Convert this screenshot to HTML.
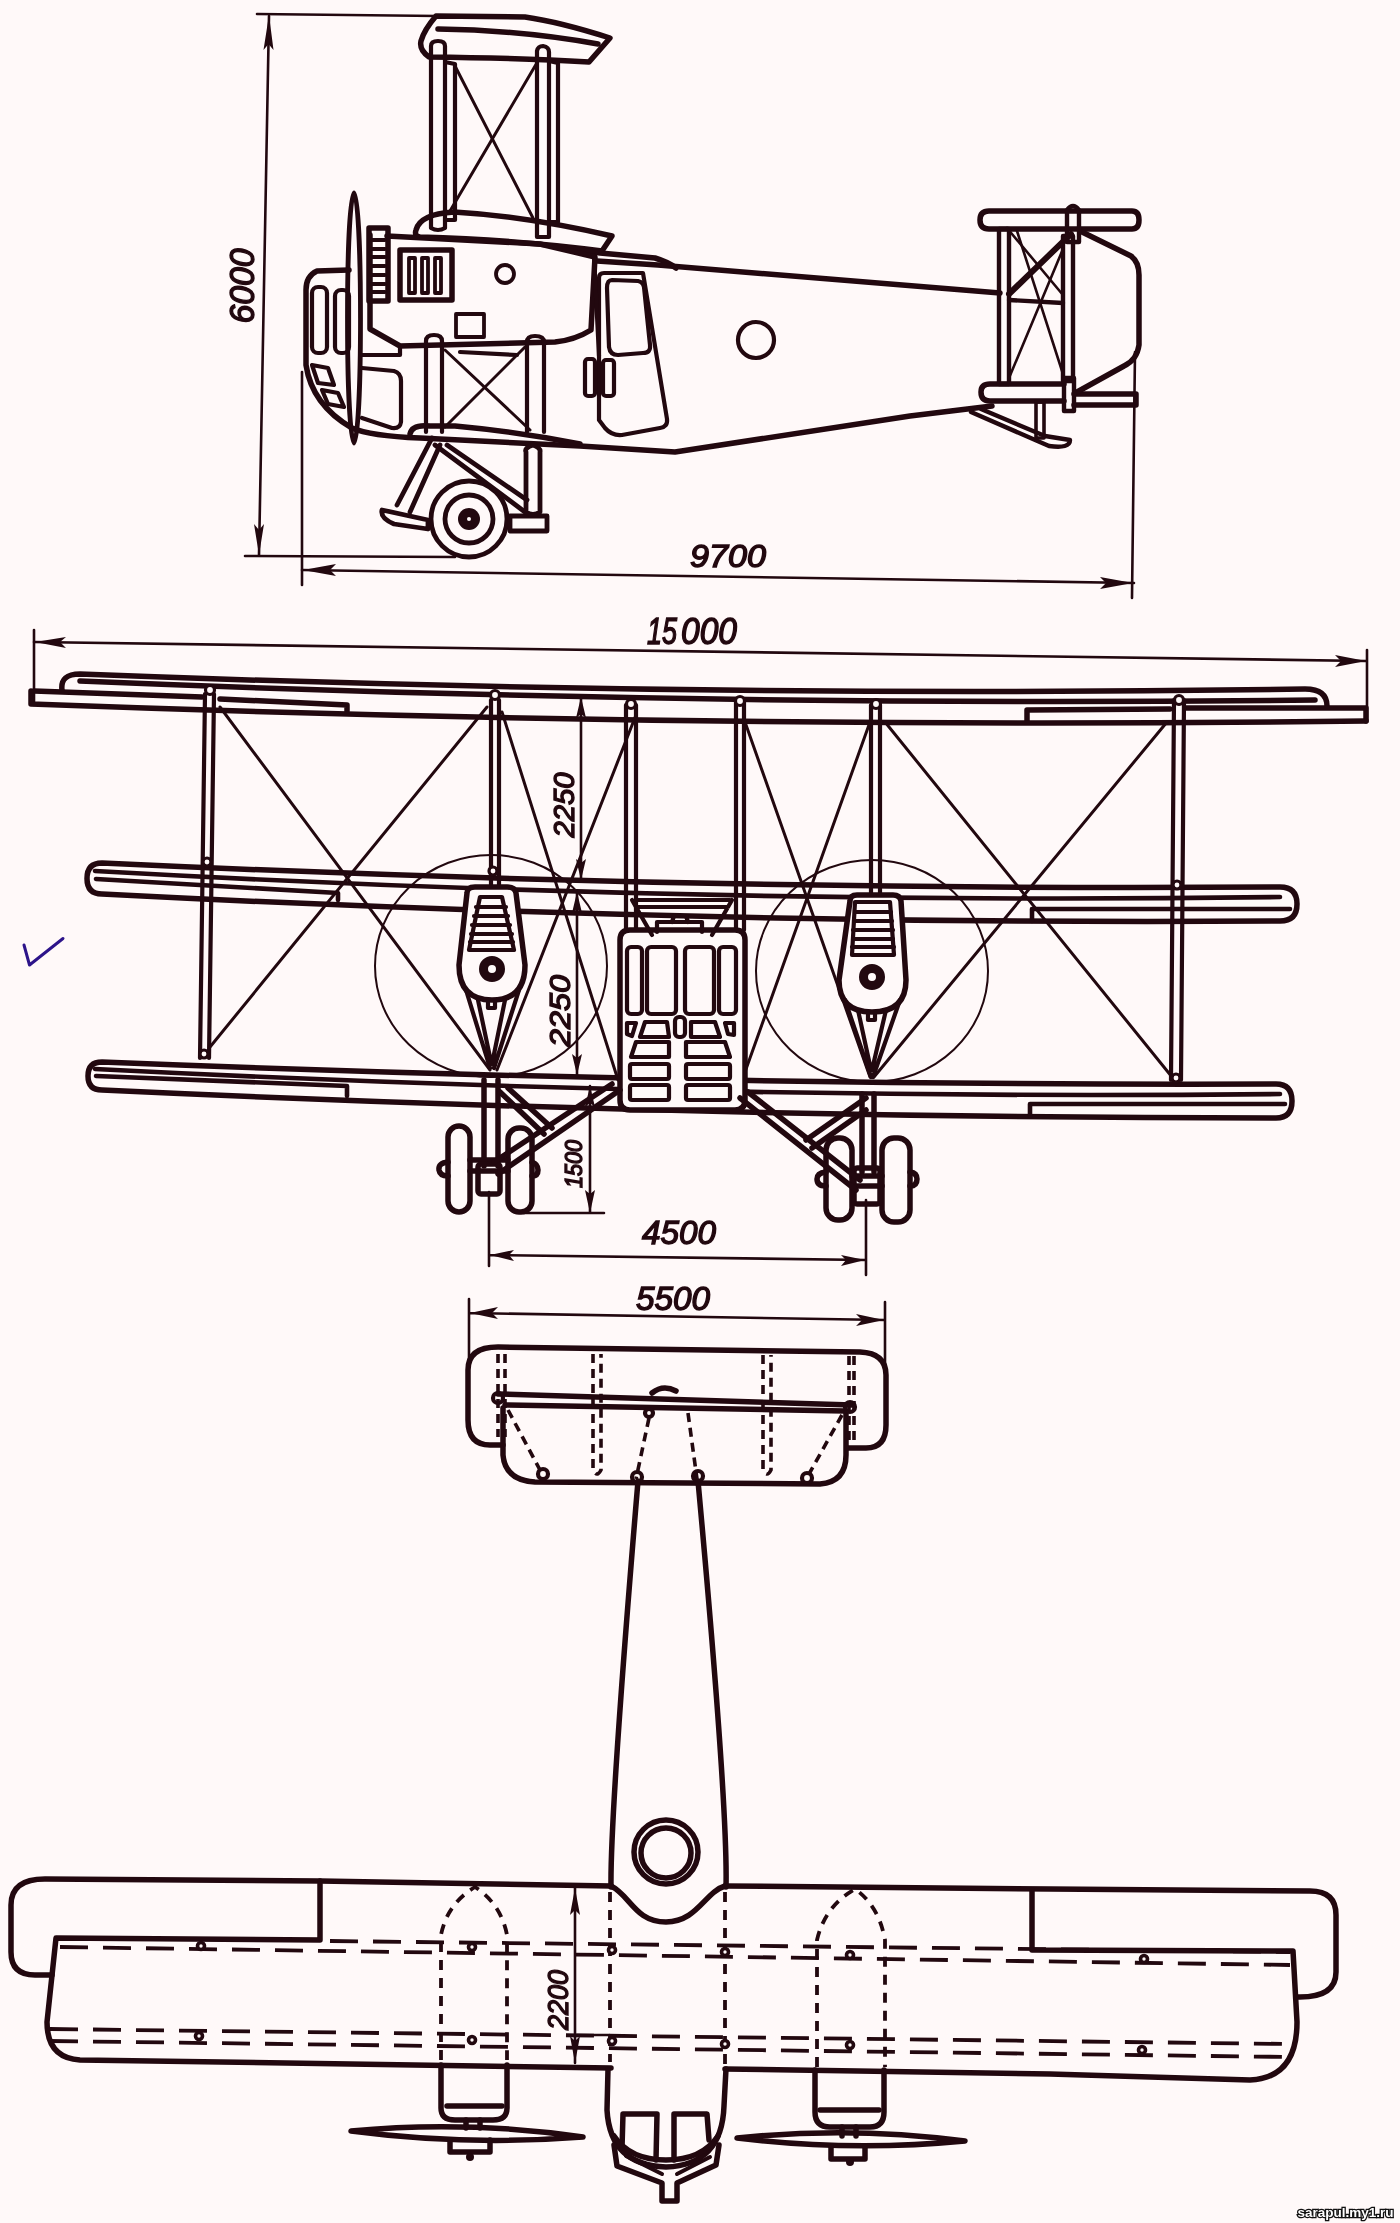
<!DOCTYPE html>
<html><head><meta charset="utf-8">
<style>
html,body{margin:0;padding:0;background:#fff9f9;}
body{width:1400px;height:2223px;overflow:hidden;position:relative;font-family:"Liberation Sans",sans-serif;}
svg{position:absolute;left:0;top:0;will-change:transform;}
</style></head><body>
<svg width="1400" height="2223" viewBox="0 0 1400 2223">
<g fill="none" stroke="#22080f" stroke-linecap="round" stroke-linejoin="round">
<!-- SIDE VIEW -->
<g id="side">
<g stroke-width="2.6">
<path d="M257,14 L438,16"/>
<path d="M269,16 L259,555"/>
<path d="M245,556 L455,557"/>
<path d="M302,372 L302,585"/>
<path d="M302,570 L1134,583"/>
<path d="M1135,352 L1132,598"/>
</g>
<g fill="#22080f" stroke="none">
<path d="M269,15 L263.5,50 L268.5,44 L273.5,50 Z"/>
<path d="M259,555 L254,524 L259,530 L264,524 Z"/>
<path d="M303,570 L336,564 L330,570 L336,576 Z"/>
<path d="M1133,583 L1100,577 L1106,583 L1100,589 Z"/>
</g>
<!-- top wing -->
<g stroke-width="5.5">
<path d="M436,16 L525,17 Q560,22 610,38 L589,62 Q520,58 429,57 Q419,50 421,41 Q424,30 436,16 Z"/>
<path d="M438,29 Q520,30 598,44"/>
</g>
<g stroke-width="4.2">
<path d="M431,228 L431,46 Q431,41 438,41 Q445,41 445,46 L445,228 Q438,232 431,228 Z"/>
<path d="M445,62 L455,64 L455,220 L445,220"/>
<path d="M537,237 L537,51 Q538,46 543,46 Q549,47 549,52 L549,237 Z"/>
<path d="M549,61 L558,63 L558,222 L549,222"/>
</g>
<g stroke-width="3">
<path d="M455,66 L533,218"/>
<path d="M538,61 L450,211"/>
</g>
<!-- middle wing + nacelle -->
<g stroke-width="5.5">
<path d="M416,230 Q420,214 454,212 Q525,216 612,236 L602,251 Q520,240 420,237 Q414,236 416,230 Z"/>
<path d="M560,247 L600,253 L655,258 Q668,262 676,268"/>
<path d="M387,236 L540,244 L595,257 L591,330 Q575,340 555,342 L400,346 L370,329 L370,235"/>
<path d="M369,228 L388,228 L388,301 L369,301 Z"/>
<path d="M400,250 L452,250 L452,300 L400,300 Z"/>
</g>
<g stroke-width="3.8">
<path d="M372,240 L385,240 M372,249 L385,249 M372,257 L385,257 M372,266 L385,266 M372,275 L385,275 M372,284 L385,284 M372,292 L385,292"/>
<path d="M409,258 L415,258 L415,293 L409,293 Z M422,258 L428,258 L428,293 L422,293 Z M435,258 L441,258 L441,293 L435,293 Z"/>
<circle cx="505" cy="274" r="9"/>
<path d="M456,314 L484,314 L484,337 L456,337 Z"/>
</g>
<!-- propeller -->
<ellipse cx="354" cy="318" rx="6.5" ry="125" stroke-width="4.8"/>
<!-- nose -->
<g stroke-width="5.5">
<path d="M349,270 L317,271 Q306,276 306,290 L306,365 Q312,405 352,428 Q370,436 420,438 L580,446 L675,452 L910,416 L992,406"/>
<path d="M597,261 L658,265 L1000,293"/>
</g>
<g stroke-width="4.2">
<rect x="312" y="287" width="15" height="66" rx="6"/>
<rect x="335" y="290" width="14" height="63" rx="6"/>
<path d="M312,365 L328,368 L334,385 L318,383 Z"/>
<path d="M322,390 L338,393 L344,407 L328,404 Z"/>
<path d="M362,368 L394,371 Q401,373 401,381 L401,422 Q400,429 392,428 L362,418"/>
<path d="M362,355 L400,355 L400,348"/>
</g>
<!-- door etc -->
<g stroke-width="4.2">
<path d="M604,273 L643,273 L667,419 Q668,427 660,428 L622,435 Q612,436 605,428 L599,420 L599,278 Q599,273 604,273 Z"/>
<path d="M612,280 L638,281 Q643,282 644,287 L650,345 Q651,353 643,353 L618,355 Q610,355 609,347 L607,288 Q607,280 612,280 Z"/>
<circle cx="756" cy="340" r="18"/>
<rect x="585" y="359" width="10" height="37" rx="3"/>
<rect x="603" y="360" width="11" height="36" rx="3"/>
<path d="M594,255 L599,356"/>
</g>
<!-- lower struts -->
<g stroke-width="4.2">
<path d="M426,432 L426,341 Q426,335 434,335 Q442,335 442,341 L442,432"/>
<path d="M527,432 L527,342 Q527,336 535,336 Q544,336 544,342 L544,432"/>
</g>
<g stroke-width="3">
<path d="M445,350 L530,430"/>
<path d="M525,347 L445,427"/>
</g>
<path d="M410,434 Q412,424 430,426 L455,426 Q520,432 580,444" stroke-width="5.5"/>
<path d="M460,352 L517,355" stroke-width="4.2"/>
<!-- landing gear -->
<g stroke-width="4.8">
<circle cx="469" cy="519" r="38"/>
<circle cx="469" cy="519" r="24"/>
<path d="M382,510 L428,520 L428,529 L394,524 Q380,518 382,510 Z"/>
<path d="M510,516 L547,516 L547,531 L510,531 Z"/>
<path d="M397,505 L432,438 M410,512 L440,445"/>
<path d="M435,445 L525,512 M447,445 L527,500"/>
<path d="M526,452 Q524,448 533,445 Q541,448 540,452 L540,512 Q533,517 526,512 Z"/>
</g>
<circle cx="469" cy="519" r="11" fill="#22080f" stroke="none"/>
<circle cx="469" cy="519" r="2" fill="#fff9f9" stroke="none"/>
<!-- tail -->
<g stroke-width="5.5">
<path d="M980,220 Q980,211 989,211 L1132,211 Q1139,211 1139,220 Q1139,229 1132,229 L989,229 Q980,229 980,220 Z"/>
<path d="M981,392 Q981,384 990,384 L1064,384 M1074,394 L1136,394 L1136,405 L1074,405 M1064,401 L990,401 Q981,401 981,392"/>
<path d="M1080,231 L1131,256 Q1139,262 1139,275 L1139,345 Q1137,360 1124,366 L1077,392"/>
</g>
<g stroke-width="4.4">
<path d="M999,229 L1009,229 L1009,384 L999,384 Z"/>
<path d="M1063,236 L1073,236 L1073,381 L1063,381 Z"/>
<path d="M1067,210 Q1073,202 1079,210 L1079,242 L1067,242 Z"/>
<path d="M1064,378 L1074,378 L1074,411 L1064,411 Z"/>
<path d="M1009,294 L1071,234" stroke-width="6"/>
<path d="M1009,300 L1063,303"/>
<path d="M971,412 L1049,446 Q1070,449 1070,440 L1045,436 L981,409"/>
<path d="M1036,402 L1044,402 L1044,438 L1036,438 Z" stroke-width="3.6"/>
</g>
<g stroke-width="2.6">
<path d="M1007,228 L1063,295"/>
<path d="M1009,378 L1063,249"/>
<path d="M1017,231 L1063,374"/>
</g>
</g>

<!-- FRONT VIEW -->
<g id="front">
<g stroke-width="2.6">
<path d="M34,642 L1366,661"/>
<path d="M34,630 L34,705"/>
<path d="M1367,650 L1367,721"/>
<path d="M581,697 L581,880"/>
<path d="M577,892 L577,1075"/>
<path d="M590,1086 L590,1213 M524,1213 L604,1213"/>
<path d="M489,1192 L489,1266 M866,1200 L866,1275 M489,1255 L866,1260"/>
</g>
<g fill="#22080f" stroke="none">
<path d="M35,642 L66,637 L60,642 L66,648 Z"/>
<path d="M1366,661 L1335,655 L1341,661 L1335,667 Z"/>
<path d="M581,697 L576,718 L581,714 L586,718 Z"/>
<path d="M581,880 L576,859 L581,863 L586,859 Z"/>
<path d="M577,892 L572,913 L577,909 L582,913 Z"/>
<path d="M577,1075 L572,1054 L577,1058 L582,1054 Z"/>
<path d="M590,1086 L585,1107 L590,1103 L595,1107 Z"/>
<path d="M590,1213 L585,1190 L590,1194 L595,1190 Z"/>
<path d="M490,1255 L514,1250 L509,1255 L514,1261 Z"/>
<path d="M865,1260 L841,1255 L846,1260 L841,1266 Z"/>
</g>
<!-- top wing -->
<g stroke-width="5.5">
<path d="M62,690 Q60,674 80,674 Q700,698 1305,689 Q1327,689 1327,706"/>
<path d="M80,681 Q700,707 1315,700"/>
<path d="M34,691 L202,697 M220,699 L347,705 L347,711"/>
<path d="M1027,721 L1027,710 L1170,709 M1186,708 L1366,708 L1366,721"/>
<path d="M31,691 L31,704 Q700,729 1366,721"/>
</g>
<!-- middle wing -->
<g stroke-width="5.5">
<path d="M102,863 Q700,891 1280,887 Q1297,887 1297,904 Q1297,921 1280,921 Q700,925 102,894 Q87,894 87,878.5 Q87,863 102,863 Z"/>
</g>
<g stroke-width="4.6">
<path d="M95,871 Q700,905 1280,897"/>
<path d="M96,879 L338,893 L338,900"/>
<path d="M1032,921 L1032,909 L1290,909"/>
</g>
<!-- lower wing -->
<g stroke-width="5.5">
<path d="M102,1062 Q700,1086 1276,1084 Q1292,1084 1292,1101 Q1292,1118 1276,1118 Q700,1118 102,1090 Q88,1090 88,1076 Q88,1062 102,1062 Z"/>
</g>
<g stroke-width="4.6">
<path d="M95,1069 Q700,1100 1280,1094"/>
<path d="M96,1076 L347,1086 L347,1096"/>
<path d="M1030,1116 L1030,1104 L1285,1104"/>
</g>
<!-- struts -->
<g stroke-width="4.2">
<path d="M205,694 L200,1058 M214,694 L209,1058"/>
<path d="M491,700 L491,886 M499,700 L499,886"/>
<path d="M626,705 L626,930 M636,705 L636,930"/>
<path d="M736,702 L736,930 M744,702 L744,930"/>
<path d="M871,705 L871,895 M880,705 L880,895"/>
<path d="M1174,700 L1171,1080 M1184,700 L1181,1080"/>
</g>
<!-- wires -->
<g stroke-width="3">
<path d="M220,707 L490,1070"/>
<path d="M487,707 L210,1047"/>
<path d="M502,712 L618,1080"/>
<path d="M636,715 L497,1070"/>
<path d="M745,722 L870,1077"/>
<path d="M870,722 L745,1072"/>
<path d="M885,722 L1172,1077"/>
<path d="M1167,722 L874,1077"/>
</g>
<!-- strut joints -->
<g stroke-width="3.2" fill="#fff9f9">
<circle cx="210" cy="690" r="4.5"/><circle cx="495" cy="695" r="4.5"/><circle cx="631" cy="704" r="4.5"/>
<circle cx="740" cy="701" r="4.5"/><circle cx="876" cy="704" r="4.5"/><circle cx="1179" cy="700" r="4.5"/>
<circle cx="207" cy="862" r="4"/><circle cx="493" cy="871" r="4"/><circle cx="1177" cy="885" r="4"/>
<circle cx="204" cy="1054" r="4"/><circle cx="1176" cy="1078" r="4"/>
</g>
<!-- propeller discs -->
<g stroke-width="2">
<ellipse cx="491" cy="966" rx="116" ry="111"/>
<ellipse cx="872" cy="971" rx="116" ry="111"/>
</g>
<!-- nacelles -->
<g stroke-width="5.5" fill="#fff9f9">
<path d="M467,893 Q467,887 475,887 L507,887 Q515,887 516,893 L525,965 Q525,1000 492,1000 Q459,1000 459,965 Z"/>
<path d="M850,901 Q850,895 857,895 L893,895 Q900,895 901,901 L906,980 Q906,1012 872,1012 Q839,1012 839,980 Z"/>
</g>
<g stroke-width="4.2">
<path d="M480,897 L502,897 L514,950 L469,950 Z"/>
<path d="M476,907 L506,907 M474,916 L508,916 M472,925 L510,925 M471,934 L512,934 M470,942 L513,942"/>
<path d="M855,902 L890,902 L894,955 L852,955 Z"/>
<path d="M855,912 L891,912 M854,921 L892,921 M853,930 L893,930 M853,939 L893,939 M852,947 L894,947"/>
<path d="M466,990 L490,1068 M478,1000 L491,1062 M505,1000 L492,1064 M519,990 L494,1068"/>
<path d="M845,1000 L871,1077 M858,1010 L871,1070 M886,1010 L872,1070 M900,1000 L873,1077"/>
<path d="M488,1001 L488,1008 L495,1008 L495,1001"/>
<path d="M868,1013 L868,1020 L875,1020 L875,1013"/>
</g>
<g stroke-width="9">
<circle cx="492" cy="969" r="8.5"/>
<circle cx="872" cy="977" r="8.5"/>
</g>
<!-- fuselage -->
<g stroke-width="5.5" fill="#fff9f9">
<path d="M630,930 L735,930 Q745,930 745,940 L745,1100 Q745,1110 735,1110 L630,1110 Q620,1110 620,1100 L620,940 Q620,930 630,930 Z"/>
</g>
<g stroke-width="4.2">
<path d="M632,900 L652,935 M732,900 L712,935 M636,900 L730,900 M638,907 L728,907"/>
<path d="M657,932 L657,922 L702,922 L702,932 M672,922 L674,916 L686,916 L688,922"/>
<rect x="627" y="947" width="15" height="67" rx="4"/>
<rect x="647" y="947" width="29" height="67" rx="4"/>
<rect x="685" y="947" width="29" height="67" rx="4"/>
<rect x="719" y="947" width="17" height="67" rx="4"/>
<path d="M627,1023 L636,1023 L632,1036 L627,1034 Z"/>
<path d="M645,1022 L667,1022 L669,1037 L640,1037 Z"/>
<rect x="675" y="1017" width="10" height="20" rx="4"/>
<path d="M691,1022 L715,1022 L720,1037 L691,1037 Z"/>
<path d="M725,1023 L734,1023 L734,1035 L728,1034 Z"/>
<path d="M636,1042 L669,1042 L669,1057 L631,1057 Z"/>
<path d="M686,1042 L725,1042 L730,1057 L686,1057 Z"/>
<rect x="630" y="1064" width="39" height="15" rx="2"/>
<rect x="686" y="1064" width="44" height="15" rx="2"/>
<rect x="630" y="1085" width="39" height="15" rx="2"/>
<rect x="686" y="1085" width="44" height="15" rx="2"/>
</g>
<!-- landing gear -->
<g stroke-width="5.5">
<path d="M484,1080 L484,1166 M498,1080 L498,1166"/>
<rect x="448" y="1126" width="22" height="86" rx="11"/>
<rect x="508" y="1128" width="24" height="84" rx="11"/>
<path d="M448,1162 Q438,1163 439,1170 Q440,1176 448,1176"/>
<path d="M532,1162 Q538,1164 538,1170 Q538,1176 532,1176"/>
<path d="M470,1160 L508,1160 M470,1171 L508,1171"/>
<rect x="478" y="1164" width="22" height="30" rx="3"/>
<path d="M498,1174 L620,1090 M494,1162 L612,1084"/>
<path d="M500,1092 L544,1134 M508,1088 L552,1128"/>
<path d="M862,1094 L862,1172 M874,1094 L874,1172"/>
<rect x="826" y="1138" width="26" height="82" rx="12"/>
<rect x="882" y="1138" width="28" height="84" rx="12"/>
<path d="M826,1172 Q817,1173 817,1179 Q817,1186 826,1186"/>
<path d="M910,1172 Q917,1173 917,1179 Q917,1186 910,1186"/>
<path d="M852,1176 L882,1176 M852,1186 L882,1186"/>
<rect x="854" y="1168" width="26" height="36" rx="3"/>
<path d="M740,1098 L856,1190 M748,1092 L860,1180"/>
<path d="M806,1140 L866,1098 M812,1148 L866,1110"/>
</g>
</g>

<!-- TOP VIEW -->
<g id="top">
<g stroke-width="2.6">
<path d="M469,1299 L469,1366 M885,1302 L885,1366 M469,1313 L885,1320"/>
<path d="M575,1887 L575,2063 M577,2035 L609,2035"/>
</g>
<g fill="#22080f" stroke="none">
<path d="M470,1313 L498,1307 L492,1313 L498,1319 Z"/>
<path d="M884,1320 L856,1314 L862,1320 L856,1326 Z"/>
<path d="M575,1888 L570,1915 L575,1910 L580,1915 Z"/>
<path d="M575,2063 L570,2036 L575,2041 L580,2036 Z"/>
</g>
<!-- tailplane -->
<g stroke-width="5.5">
<path d="M503,1445 L490,1445 Q468,1445 468,1420 L468,1370 Q468,1347 498,1347 L860,1352 Q886,1353 886,1375 L886,1425 Q886,1448 866,1448 L848,1448"/>
<path d="M503,1408 L503,1455 Q505,1480 535,1482 L820,1484 Q846,1482 846,1455 L846,1411"/>
<path d="M498,1394 L852,1405 M505,1405 L845,1411"/>
<path d="M652,1393 Q663,1384 676,1391"/>
</g>
<g stroke-width="4.2">
<circle cx="498" cy="1398" r="5"/>
<circle cx="850" cy="1407" r="5"/>
<circle cx="543" cy="1474" r="5"/>
<circle cx="807" cy="1478" r="5"/>
<circle cx="637" cy="1477" r="5"/>
<circle cx="698" cy="1476" r="5"/>
<circle cx="649" cy="1413" r="4"/>
</g>
<g stroke-width="3.6" stroke-dasharray="9,6" stroke-linecap="butt">
<path d="M498,1354 L498,1437 M505,1354 L505,1437"/>
<path d="M593,1354 L593,1470 Q597,1478 601,1470 L601,1354"/>
<path d="M763,1355 L763,1470 Q767,1478 771,1470 L771,1355"/>
<path d="M849,1356 L849,1440 M854,1356 L854,1440"/>
<path d="M508,1410 L540,1470"/>
<path d="M842,1415 L809,1474"/>
<path d="M649,1418 L636,1479"/>
<path d="M688,1413 L697,1479"/>
</g>
<!-- fuselage -->
<g stroke-width="5.5">
<path d="M638,1481 Q610,1815 611,1887"/>
<path d="M698,1481 Q728,1808 726,1887"/>
<circle cx="666" cy="1852" r="32"/>
<circle cx="666" cy="1853" r="25"/>
<path d="M611,1886 C630,1895 635,1922 666,1922 C697,1922 705,1892 725,1886"/>
</g>
<!-- wing -->
<g stroke-width="5.5">
<path d="M320,1881 L45,1879 Q11,1879 11,1905 L11,1952 Q11,1975 35,1975 L52,1975"/>
<path d="M320,1881 L611,1886 M725,1886 L1050,1889 L1310,1891 Q1336,1891 1336,1915 L1336,1972 Q1336,1997 1300,1997 L1296,1997"/>
<path d="M320,1884 L320,1940 L56,1938 L47,2022 Q47,2058 80,2060 L350,2064 L611,2068"/>
<path d="M725,2069 L1050,2074 L1250,2080 Q1297,2078 1297,2022 L1293,1951 L1032,1950 L1032,1890"/>
</g>
<g stroke-width="3.8" stroke-dasharray="28,15" stroke-linecap="butt">
<path d="M60,1947 L1290,1965"/>
<path d="M330,1941 L1290,1952"/>
<path d="M50,2029 L1290,2044"/>
<path d="M50,2041 L1290,2057"/>
</g>
<g stroke-width="3.8" stroke-dasharray="10,8" stroke-linecap="butt">
<path d="M441,2060 L441,1935 Q447,1904 475,1887 Q501,1904 507,1935 L507,2060"/>
<path d="M817,2067 L817,1940 Q825,1906 855,1889 Q879,1906 885,1940 L885,2067"/>
<path d="M610,1892 L610,2062 M725,1892 L725,2064"/>
</g>
<g stroke-width="3.6" fill="#fff9f9">
<circle cx="201" cy="1946" r="3.5"/><circle cx="199" cy="2036" r="3.5"/>
<circle cx="472" cy="1947" r="3.5"/><circle cx="472" cy="2040" r="3.5"/>
<circle cx="612" cy="1950" r="3.5"/><circle cx="612" cy="2041" r="3.5"/>
<circle cx="725" cy="1952" r="3.5"/><circle cx="725" cy="2044" r="3.5"/>
<circle cx="850" cy="1955" r="3.5"/><circle cx="850" cy="2045" r="3.5"/>
<circle cx="1144" cy="1959" r="3.5"/><circle cx="1142" cy="2050" r="3.5"/>
</g>
<!-- nacelles -->
<g stroke-width="5.5">
<path d="M441,2065 L441,2108 Q441,2120 455,2120 L493,2120 Q507,2120 507,2108 L507,2065"/>
<path d="M447,2106 L502,2106"/>
<path d="M815,2070 L815,2112 Q815,2127 830,2127 L870,2127 Q884,2127 884,2112 L884,2070"/>
<path d="M820,2110 L879,2110"/>
<path d="M466,2120 L466,2128 M480,2120 L480,2128"/>
<path d="M842,2127 L842,2136 M856,2127 L856,2136"/>
<path d="M351,2131 Q466,2120 583,2137 Q466,2146 351,2131 Z"/>
<path d="M737,2138 Q850,2126 965,2141 Q850,2152 737,2138 Z"/>
<path d="M450,2140 L450,2152 L490,2152 L490,2140"/>
<path d="M831,2147 L831,2159 L865,2159 L865,2147"/>
</g>
<g fill="#22080f" stroke="none">
<circle cx="470" cy="2157" r="4"/>
<circle cx="850" cy="2162" r="4"/>
</g>
<!-- nose -->
<g stroke-width="5.5">
<path d="M608,2069 L607,2110 Q610,2165 666,2167 Q722,2165 724,2106 L726,2069"/>
<path d="M614,2136 Q630,2160 666,2160 Q702,2160 718,2136"/>
<path d="M622,2148 L623,2114 L657,2114 L656,2160"/>
<path d="M674,2160 L674,2114 L707,2114 L709,2140"/>
<path d="M614,2145 L617,2166 L662,2183 L662,2201 L677,2201 L677,2183 L716,2165 L719,2145"/>
<path d="M626,2156 L662,2174 M677,2174 L710,2157" stroke-width="4"/>
</g>
</g>
</g>

<!-- TEXT -->
<g fill="#22080f" stroke="#22080f" stroke-width="1.4" font-family="Liberation Sans, sans-serif" font-style="italic" text-anchor="middle">
<text x="728" y="567" font-size="31" textLength="76" lengthAdjust="spacingAndGlyphs">9700</text>
<text x="662" y="644" font-size="36" textLength="30" lengthAdjust="spacingAndGlyphs">15</text>
<text x="709" y="644" font-size="36" textLength="56" lengthAdjust="spacingAndGlyphs">000</text>
<text transform="translate(254,286) rotate(-90)" font-size="35" textLength="75" lengthAdjust="spacingAndGlyphs">6000</text>
<text transform="translate(574,805) rotate(-90)" font-size="30" textLength="65" lengthAdjust="spacingAndGlyphs">2250</text>
<text transform="translate(570,1011) rotate(-90)" font-size="30" textLength="72" lengthAdjust="spacingAndGlyphs">2250</text>
<text transform="translate(582,1164) rotate(-90)" font-size="23" textLength="48" lengthAdjust="spacingAndGlyphs">1500</text>
<text x="679" y="1244" font-size="34" textLength="74" lengthAdjust="spacingAndGlyphs">4500</text>
<text x="673" y="1310" font-size="33" textLength="74" lengthAdjust="spacingAndGlyphs">5500</text>
<text transform="translate(568,2000) rotate(-90)" font-size="30" textLength="60" lengthAdjust="spacingAndGlyphs">2200</text>
</g>
<text x="1345.5" y="2217" font-family="Liberation Sans, sans-serif" font-weight="bold" font-size="13.5" fill="#ffffff" stroke="#111111" stroke-width="2.6" paint-order="stroke" stroke-linejoin="miter" text-anchor="middle" textLength="96" lengthAdjust="spacingAndGlyphs">sarapul.my1.ru</text>
<path d="M24,945 L29.5,965 L63,938.5" stroke="#2d148a" stroke-width="3" fill="none" stroke-linecap="round" stroke-linejoin="round"/>
</svg>
</body></html>
